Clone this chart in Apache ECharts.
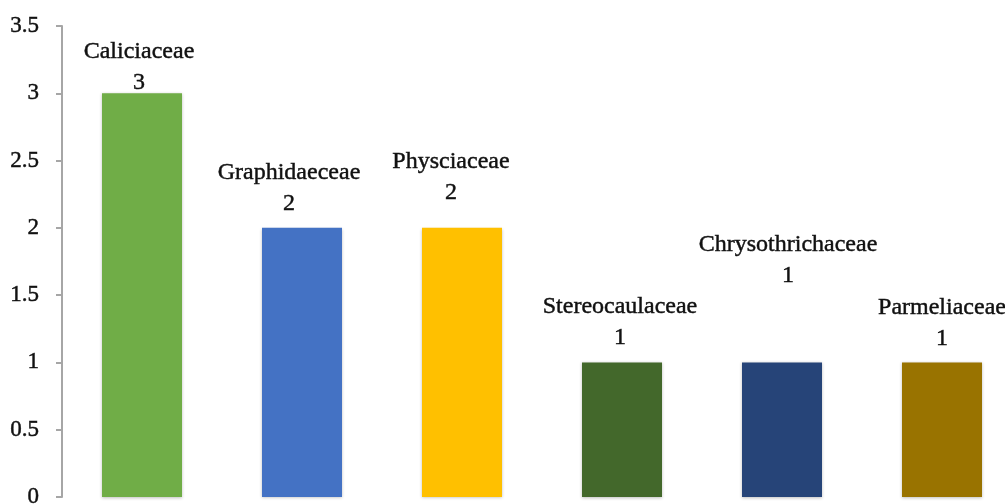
<!DOCTYPE html>
<html>
<head>
<meta charset="utf-8">
<style>
  html, body { margin: 0; padding: 0; background: #ffffff; }
  #chart { width: 1005px; height: 504px; }
</style>
<script src="https://cdn.jsdelivr.net/npm/echarts@6/dist/echarts.min.js"></script>
</head>
<body>
<div id="chart"></div>
<script>
// Lichen families and number of species in each
const families = ['Caliciaceae', 'Graphidaeceae', 'Physciaceae', 'Stereocaulaceae', 'Chrysothrichaceae', 'Parmeliaceae'];
const speciesCount = [3, 2, 2, 1, 1, 1];

// Bar fill per family
const barColors = ['#70AD47', '#4472C4', '#FFC000', '#43682B', '#264478', '#997300'];

// Hand-placed label nudges [dx, lift] in pixels
const labelNudge = [[-3, -5], [-13, 9], [-11, 20], [-2, 9], [6, 71], [0, 8]];

const textColor = '#111111';
const serif = '"Liberation Serif", "Times New Roman", serif';
// a hairline outline gives the serif text a slightly heavier stroke
const textWeight = { textBorderColor: textColor, textBorderWidth: 0.45 };

const dataItems = speciesCount.map((v, i) => ({
  value: v,
  itemStyle: { color: barColors[i] },
  label: { offset: [labelNudge[i][0], -labelNudge[i][1]] }
}));

const chart = echarts.init(document.getElementById('chart'), null, { renderer: 'canvas' });
chart.setOption({
  animation: false,
  backgroundColor: '#ffffff',
  // plot band runs past the right edge so the last label is clipped by the page
  grid: { left: 62, width: 960, top: 26, bottom: 7, containLabel: false, outerBoundsMode: 'none' },
  xAxis: {
    type: 'category',
    data: families,
    axisLine: { show: false },
    axisTick: { show: false },
    axisLabel: { show: false },
    splitLine: { show: false }
  },
  yAxis: {
    type: 'value',
    min: 0,
    max: 3.5,
    interval: 0.5,
    axisLine: { show: true, lineStyle: { color: '#a6a6a6', width: 2 } },
    axisTick: { show: true, length: 6, lineStyle: { color: '#a6a6a6', width: 2 } },
    splitLine: { show: false },
    axisLabel: Object.assign({
      margin: 23,
      color: textColor,
      fontFamily: serif,
      fontSize: 23
    }, textWeight)
  },
  series: [{
    type: 'bar',
    data: dataItems,
    barWidth: 80,
    itemStyle: {
      shadowColor: 'rgba(0,0,0,0.25)',
      shadowBlur: 3,
      shadowOffsetY: 1
    },
    label: {
      show: true,
      position: 'top',
      distance: 0,
      formatter: (p) => '{n|' + p.name + '}\n{v|' + p.value + '}',
      rich: {
        n: Object.assign({ fontFamily: serif, fontSize: 24, color: textColor, lineHeight: 31, align: 'center' }, textWeight),
        v: Object.assign({ fontFamily: serif, fontSize: 24, color: textColor, lineHeight: 31, align: 'center' }, textWeight)
      }
    }
  }]
});
</script>
</body>
</html>
